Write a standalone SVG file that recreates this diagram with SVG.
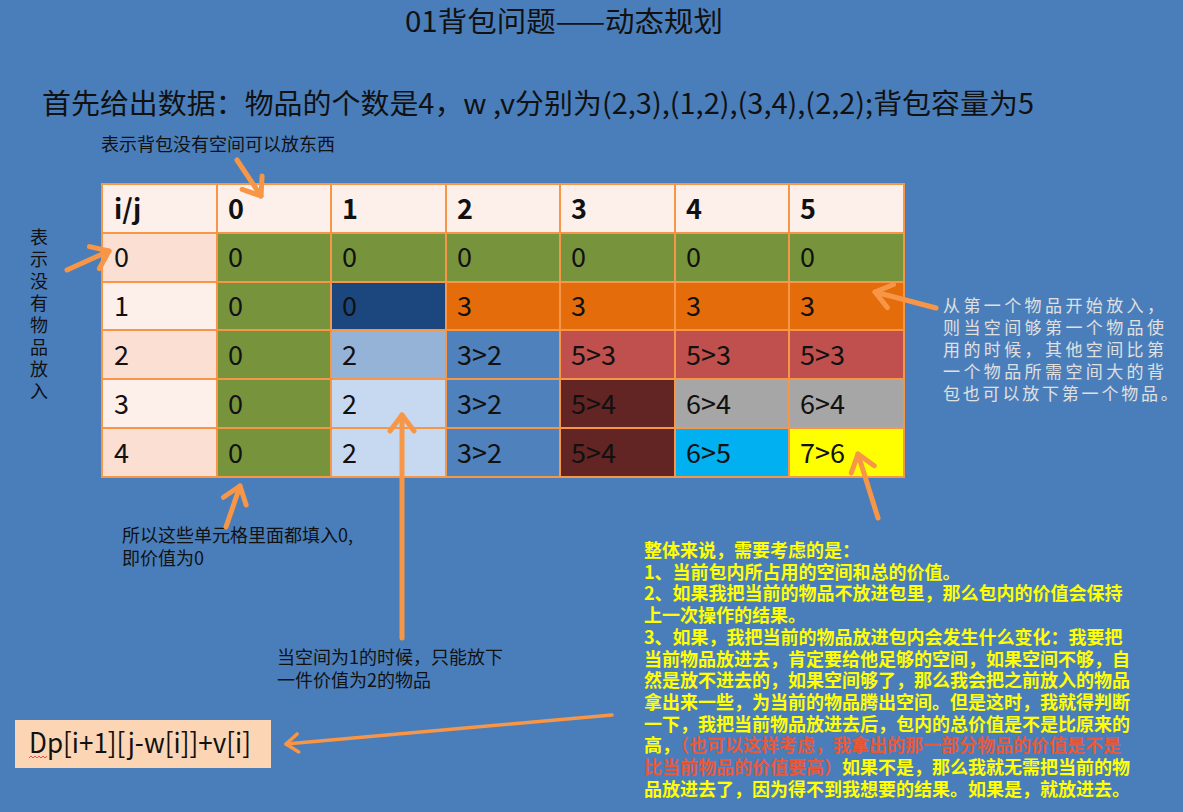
<svg xmlns="http://www.w3.org/2000/svg" width="1183" height="812" viewBox="0 0 1183 812">
<style>
text{font-family:"Noto Sans CJK SC","Noto Sans",sans-serif;fill:#111}
.hd{font-size:27px;font-weight:bold}
.cv{font-size:27px}
.an{font-size:18px}
.gr{font-size:17px;fill:#E0E0E0;letter-spacing:3.4px}
.yl{font-size:18px;fill:#FFFF00;font-weight:bold}
.rd{fill:#E8593A}
.g{stroke:#F79646;stroke-width:2}
.c{stroke:#F79646;stroke-width:5;stroke-linecap:round;fill:none}
</style>
<defs>
<marker id="ah" markerUnits="userSpaceOnUse" viewBox="-20 -15 26 30" markerWidth="26" markerHeight="30" refX="0" refY="0" orient="auto" overflow="visible">
<path d="M-16,-12 L0,0 L-16,12" fill="none" stroke="#F79646" stroke-width="5" stroke-linecap="round" stroke-linejoin="round"/>
</marker>
<marker id="ahs" markerUnits="userSpaceOnUse" viewBox="-20 -15 26 30" markerWidth="26" markerHeight="30" refX="0" refY="0" orient="auto" overflow="visible">
<path d="M-12,-9 L0,0 L-12,9" fill="none" stroke="#F79646" stroke-width="3.5" stroke-linecap="round" stroke-linejoin="round"/>
</marker>
</defs>
<rect x="0" y="0" width="1183" height="812" fill="#4A7EBB"/>

<g id="title"><text x="405" y="32" style="font-size:28.5px" textLength="318" lengthAdjust="spacingAndGlyphs">01背包问题——动态规划</text></g>
<g id="data"><text x="42" y="114" style="font-size:28px" textLength="992" lengthAdjust="spacingAndGlyphs">首先给出数据：物品的个数是4，w ,v分别为(2,3),(1,2),(3,4),(2,2);背包容量为5</text></g>

<g id="table">
<g id="row-header">
<rect x="102" y="184" width="802" height="49" fill="#FDEFEA"/>
<text class="hd" x="114" y="219">i/j</text>
<text class="hd" x="228" y="219">0</text>
<text class="hd" x="342" y="219">1</text>
<text class="hd" x="457" y="219">2</text>
<text class="hd" x="571" y="219">3</text>
<text class="hd" x="686" y="219">4</text>
<text class="hd" x="800" y="219">5</text>
</g>
<g id="row-0">
<rect x="102" y="233" width="115" height="49" fill="#FBDFD3"/>
<rect x="217" y="233" width="687" height="49" fill="#77933C"/>
<text class="cv" x="114" y="267">0</text>
<text class="cv" x="228" y="267">0</text><text class="cv" x="342" y="267">0</text><text class="cv" x="457" y="267">0</text><text class="cv" x="571" y="267">0</text><text class="cv" x="686" y="267">0</text><text class="cv" x="800" y="267">0</text>
</g>
<g id="row-1">
<rect x="102" y="282" width="115" height="48" fill="#FDEFEA"/>
<rect x="217" y="282" width="114" height="48" fill="#77933C"/>
<rect x="331" y="282" width="115" height="48" fill="#1C477E"/>
<rect x="446" y="282" width="458" height="48" fill="#E46C0A"/>
<text class="cv" x="114" y="316">1</text>
<text class="cv" x="228" y="316">0</text><text class="cv" x="342" y="316">0</text><text class="cv" x="457" y="316">3</text><text class="cv" x="571" y="316">3</text><text class="cv" x="686" y="316">3</text><text class="cv" x="800" y="316">3</text>
</g>
<g id="row-2">
<rect x="102" y="330" width="115" height="49" fill="#FBDFD3"/>
<rect x="217" y="330" width="114" height="49" fill="#77933C"/>
<rect x="331" y="330" width="115" height="49" fill="#95B3D7"/>
<rect x="446" y="330" width="114" height="49" fill="#4F81BD"/>
<rect x="560" y="330" width="344" height="49" fill="#C0504D"/>
<text class="cv" x="114" y="365">2</text>
<text class="cv" x="228" y="365">0</text><text class="cv" x="342" y="365">2</text><text class="cv" x="457" y="365">3&gt;2</text><text class="cv" x="571" y="365">5&gt;3</text><text class="cv" x="686" y="365">5&gt;3</text><text class="cv" x="800" y="365">5&gt;3</text>
</g>
<g id="row-3">
<rect x="102" y="379" width="115" height="49" fill="#FDEFEA"/>
<rect x="217" y="379" width="114" height="49" fill="#77933C"/>
<rect x="331" y="379" width="115" height="49" fill="#C6D9F1"/>
<rect x="446" y="379" width="114" height="49" fill="#4F81BD"/>
<rect x="560" y="379" width="115" height="49" fill="#632523"/>
<rect x="675" y="379" width="229" height="49" fill="#A6A6A6"/>
<text class="cv" x="114" y="414">3</text>
<text class="cv" x="228" y="414">0</text><text class="cv" x="342" y="414">2</text><text class="cv" x="457" y="414">3&gt;2</text><text class="cv" x="571" y="414">5&gt;4</text><text class="cv" x="686" y="414">6&gt;4</text><text class="cv" x="800" y="414">6&gt;4</text>
</g>
<g id="row-4">
<rect x="102" y="428" width="115" height="49" fill="#FBDFD3"/>
<rect x="217" y="428" width="114" height="49" fill="#77933C"/>
<rect x="331" y="428" width="115" height="49" fill="#C6D9F1"/>
<rect x="446" y="428" width="114" height="49" fill="#4F81BD"/>
<rect x="560" y="428" width="115" height="49" fill="#632523"/>
<rect x="675" y="428" width="114" height="49" fill="#00B0F0"/>
<rect x="789" y="428" width="115" height="49" fill="#FFFF00"/>
<text class="cv" x="114" y="463">4</text>
<text class="cv" x="228" y="463">0</text><text class="cv" x="342" y="463">2</text><text class="cv" x="457" y="463">3&gt;2</text><text class="cv" x="571" y="463">5&gt;4</text><text class="cv" x="686" y="463">6&gt;5</text><text class="cv" x="800" y="463">7&gt;6</text>
</g>
<g id="grid" class="g" fill="none">
<rect x="102" y="184" width="802" height="293"/>
<path d="M217,184V477M331,184V477M446,184V477M560,184V477M675,184V477M789,184V477M102,233H904M102,282H904M102,330H904M102,379H904M102,428H904"/>
</g>
</g>

<g id="note-top"><text class="an" x="101" y="151">表示背包没有空间可以放东西</text></g>
<g id="note-left">
<text class="an" x="39" y="244" text-anchor="middle">表</text>
<text class="an" x="39" y="266" text-anchor="middle">示</text>
<text class="an" x="39" y="288" text-anchor="middle">没</text>
<text class="an" x="39" y="310" text-anchor="middle">有</text>
<text class="an" x="39" y="332" text-anchor="middle">物</text>
<text class="an" x="39" y="354" text-anchor="middle">品</text>
<text class="an" x="39" y="376" text-anchor="middle">放</text>
<text class="an" x="39" y="398" text-anchor="middle">入</text>
</g>
<g id="note-right">
<text class="gr" x="943" y="312">从第一个物品开始放入，</text>
<text class="gr" x="943" y="334">则当空间够第一个物品使</text>
<text class="gr" x="943" y="356">用的时候，其他空间比第</text>
<text class="gr" x="943" y="378">一个物品所需空间大的背</text>
<text class="gr" x="943" y="400" style="letter-spacing:2.8px">包也可以放下第一个物品。</text>
</g>
<g id="note-zero">
<text class="an" x="122" y="542">所以这些单元格里面都填入0,</text>
<text class="an" x="122" y="565">即价值为0</text>
</g>
<g id="note-one">
<text class="an" x="277" y="664">当空间为1的时候，只能放下</text>
<text class="an" x="277" y="687">一件价值为2的物品</text>
</g>
<g id="formula">
<rect x="15" y="720" width="256" height="48" fill="#FCD5B5"/>
<text x="29" y="753" style="font-size:28px" textLength="222" lengthAdjust="spacingAndGlyphs">Dp[i+1][j-w[i]]+v[i]</text>
<path d="M29,758 l2,-2 l2,2 l2,-2 l2,2 l2,-2 l2,2 l2,-2 l2,2 l2,-2" fill="none" stroke="#E03030" stroke-width="0.8"/>
</g>
<g id="note-summary">
<text class="yl" x="644" y="557">整体来说，需要考虑的是：</text>
<text class="yl" x="644" y="579">1、当前包内所占用的空间和总的价值。</text>
<text class="yl" x="644" y="600">2、如果我把当前的物品不放进包里，那么包内的价值会保持</text>
<text class="yl" x="644" y="622">上一次操作的结果。</text>
<text class="yl" x="644" y="644">3、如果，我把当前的物品放进包内会发生什么变化：我要把</text>
<text class="yl" x="644" y="666">当前物品放进去，肯定要给他足够的空间，如果空间不够，自</text>
<text class="yl" x="644" y="687">然是放不进去的，如果空间够了，那么我会把之前放入的物品</text>
<text class="yl" x="644" y="709">拿出来一些，为当前的物品腾出空间。但是这时，我就得判断</text>
<text class="yl" x="644" y="731">一下，我把当前物品放进去后，包内的总价值是不是比原来的</text>
<text class="yl" x="644" y="752">高，<tspan class="rd">（也可以这样考虑，我拿出的那一部分物品的价值是不是</tspan></text>
<text class="yl" x="644" y="774"><tspan class="rd">比当前物品的价值要高）</tspan>如果不是，那么我就无需把当前的物</text>
<text class="yl" x="644" y="796">品放进去了，因为得不到我想要的结果。如果是，就放进去。</text>
</g>

<g id="connectors">
<line class="c" x1="237" y1="160" x2="261" y2="196" marker-end="url(#ah)"/>
<line class="c" x1="67" y1="270" x2="109" y2="251" marker-end="url(#ah)"/>
<line class="c" x1="936" y1="308" x2="875" y2="292" marker-end="url(#ah)"/>
<line class="c" x1="878" y1="518" x2="858" y2="454" marker-end="url(#ah)"/>
<line class="c" x1="226" y1="527" x2="240" y2="486" marker-end="url(#ah)"/>
<line class="c" x1="402" y1="638" x2="402" y2="415" marker-end="url(#ah)"/>
<line class="c" style="stroke-width:3.5" x1="612" y1="715" x2="286" y2="744" marker-end="url(#ahs)"/>
</g>
</svg>
